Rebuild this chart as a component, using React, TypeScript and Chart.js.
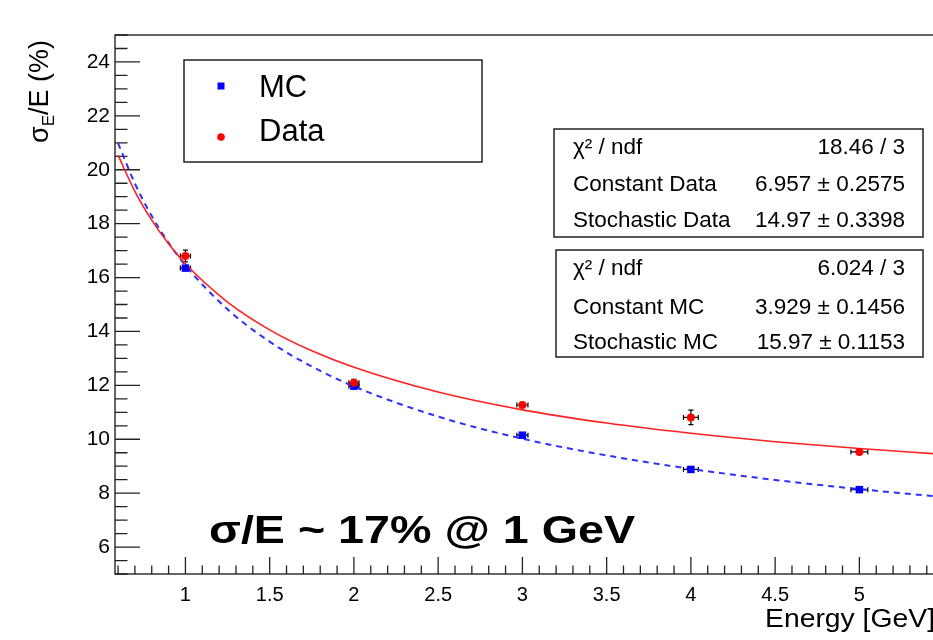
import React, { useEffect, useRef } from 'react';
import { Chart, registerables } from 'chart.js';

Chart.register(...registerables);

// ---------- data ----------
const energies = [1, 2, 3, 4, 5];
const mcValues = [16.35, 11.97, 10.15, 8.88, 8.13];
const mcErrors = [0.06, 0.05, 0.05, 0.05, 0.05];
const dataValues = [16.8, 12.1, 11.27, 10.81, 9.53];
const dataErrors = [0.22, 0.12, 0.07, 0.27, 0.06];
const energyErrors = [0.03, 0.03, 0.033, 0.044, 0.05];

const fitEnergies = [0.6, 0.7, 0.8, 0.9, 1.0, 1.25, 1.5, 1.75, 2.0, 2.5, 3.0, 3.5, 4.0, 4.5, 5.0, 5.44];
const dataFit = [20.54, 19.2, 18.13, 17.25, 16.51, 15.09, 14.06, 13.28, 12.67, 11.75, 11.09, 10.6, 10.22, 9.91, 9.655, 9.465];
const mcFit = [20.99, 19.49, 18.28, 17.29, 16.45, 14.82, 13.62, 12.7, 11.96, 10.84, 10.02, 9.4, 8.9, 8.49, 8.15, 7.89];

const xTickValues = [1, 1.5, 2, 2.5, 3, 3.5, 4, 4.5, 5];
const yTickValues = [6, 8, 10, 12, 14, 16, 18, 20, 22, 24];

const dataStats = [
  ['χ² / ndf', '18.46 / 3'],
  ['Constant Data', '6.957 ± 0.2575'],
  ['Stochastic Data', '14.97 ± 0.3398'],
];
const mcStats = [
  ['χ² / ndf', '6.024 / 3'],
  ['Constant MC', '3.929 ± 0.1456'],
  ['Stochastic MC', '15.97 ± 0.1153'],
];
const legendLabels = ['MC', 'Data'];
const annotationText = 'σ/E ~ 17% @ 1 GeV';
const xTitle = 'Energy [GeV]';

const FONT = '"Liberation Sans", Arial, Helvetica, sans-serif';

function drawFitted(ctx: CanvasRenderingContext2D, text: string, x: number, y: number, width: number, align: 'left' | 'right') {
  const w = ctx.measureText(text).width;
  const sx = width / w;
  ctx.save();
  ctx.translate(x, y);
  ctx.scale(sx, 1);
  ctx.textAlign = align;
  ctx.fillText(text, 0, 0);
  ctx.restore();
}

const decorPlugin = {
  id: 'decor',
  beforeDatasetsDraw(chart: any) {
    const ctx: CanvasRenderingContext2D = chart.ctx;
    const xs = chart.scales.x;
    const ys = chart.scales.y;
    const a = chart.chartArea;
    ctx.save();
    // frame
    ctx.strokeStyle = '#333';
    ctx.lineWidth = 1.5;
    ctx.beginPath();
    ctx.moveTo(a.right + 2, a.top);
    ctx.lineTo(a.left, a.top);
    ctx.lineTo(a.left, a.bottom);
    ctx.lineTo(a.right + 2, a.bottom);
    ctx.stroke();
    // inner ticks
    ctx.lineWidth = 1.3;
    ctx.strokeStyle = '#222';
    ctx.beginPath();
    for (let i = 0; ; i++) {
      const v = 5 + i * 0.5;
      if (v > 25) break;
      const major = Math.abs(v % 2) < 1e-6;
      const py = ys.getPixelForValue(v);
      ctx.moveTo(a.left, py);
      ctx.lineTo(a.left + (major ? 25 : 12.5), py);
    }
    for (let i = 0; ; i++) {
      const v = 0.6 + i * 0.1;
      if (v > xs.max) break;
      const major = Math.abs(Math.round(v * 10) % 5) === 0;
      const px = xs.getPixelForValue(v);
      ctx.moveTo(px, a.bottom);
      ctx.lineTo(px, a.bottom - (major ? 17 : 8.5));
    }
    ctx.stroke();
    // error bars
    ctx.strokeStyle = '#000';
    ctx.lineWidth = 1.2;
    const bars = (vals: number[], errs: number[]) => {
      energies.forEach((e, i) => {
        const px = xs.getPixelForValue(e);
        const py = ys.getPixelForValue(vals[i]);
        const y1 = ys.getPixelForValue(vals[i] + errs[i]);
        const y2 = ys.getPixelForValue(vals[i] - errs[i]);
        const x1 = xs.getPixelForValue(e - energyErrors[i]);
        const x2 = xs.getPixelForValue(e + energyErrors[i]);
        ctx.beginPath();
        ctx.moveTo(px, y1); ctx.lineTo(px, y2);
        ctx.moveTo(px - 2.5, y1); ctx.lineTo(px + 2.5, y1);
        ctx.moveTo(px - 2.5, y2); ctx.lineTo(px + 2.5, y2);
        ctx.moveTo(x1, py); ctx.lineTo(x2, py);
        ctx.moveTo(x1, py - 2.5); ctx.lineTo(x1, py + 2.5);
        ctx.moveTo(x2, py - 2.5); ctx.lineTo(x2, py + 2.5);
        ctx.stroke();
      });
    };
    bars(dataValues, dataErrors);
    bars(mcValues, mcErrors);
    ctx.restore();
  },
  afterDraw(chart: any) {
    const ctx: CanvasRenderingContext2D = chart.ctx;
    ctx.save();
    ctx.fillStyle = '#000';
    ctx.textBaseline = 'alphabetic';

    // y axis title (rotated, with subscript)
    ctx.save();
    ctx.translate(48, 143);
    ctx.rotate(-Math.PI / 2);
    ctx.font = `27px ${FONT}`;
    ctx.textAlign = 'left';
    ctx.fillText('σ', 0, 0);
    let off = ctx.measureText('σ').width;
    ctx.font = `17px ${FONT}`;
    ctx.fillText('E', off, 6);
    off += ctx.measureText('E').width;
    ctx.font = `27px ${FONT}`;
    ctx.fillText('/E (%)', off, 0);
    ctx.restore();

    // x axis title
    ctx.font = `26px ${FONT}`;
    drawFitted(ctx, xTitle, 935, 627, 170, 'right');

    // annotation
    ctx.font = `bold 39px ${FONT}`;
    drawFitted(ctx, annotationText, 209, 543, 426, 'left');

    // legend box
    ctx.strokeStyle = '#222';
    ctx.lineWidth = 1.5;
    ctx.strokeRect(184, 60, 298, 102);
    ctx.fillStyle = '#0000ff';
    ctx.fillRect(217.5, 82.5, 7, 7);
    ctx.fillStyle = '#ff0000';
    ctx.beginPath();
    ctx.arc(221, 137, 3.8, 0, Math.PI * 2);
    ctx.fill();
    ctx.fillStyle = '#000';
    ctx.font = `31px ${FONT}`;
    ctx.textAlign = 'left';
    ctx.fillText(legendLabels[0], 259, 97);
    ctx.fillText(legendLabels[1], 259, 141);

    // stat boxes
    const statBox = (rows: string[][], left: number, top: number, bottom: number, rowYs: number[]) => {
      ctx.fillStyle = '#fff';
      ctx.fillRect(left, top, 923 - left, bottom - top);
      ctx.strokeStyle = '#222';
      ctx.lineWidth = 1.5;
      ctx.strokeRect(left, top, 923 - left, bottom - top);
      ctx.fillStyle = '#000';
      ctx.font = `22.5px ${FONT}`;
      rows.forEach((r, i) => {
        ctx.textAlign = 'left';
        ctx.fillText(r[0], 573, rowYs[i]);
        ctx.textAlign = 'right';
        ctx.fillText(r[1], 905, rowYs[i]);
      });
    };
    statBox(dataStats, 554, 129, 237, [154, 191, 227]);
    statBox(mcStats, 556, 250, 357, [275, 314, 349]);
    ctx.restore();
  },
};

export default function App() {
  const ref = useRef<HTMLCanvasElement | null>(null);
  useEffect(() => {
    if (!ref.current) return;
    const chart = new Chart(ref.current, {
      type: 'scatter',
      data: {
        datasets: [
          {
            label: 'MC',
            data: energies.map((e, i) => ({ x: e, y: mcValues[i] })),
            pointStyle: 'rect',
            pointRadius: 5.3,
            backgroundColor: '#0000ff',
            borderColor: '#0000ff',
            borderWidth: 0,
            order: 1,
          },
          {
            label: 'Data',
            data: energies.map((e, i) => ({ x: e, y: dataValues[i] })),
            pointStyle: 'circle',
            pointRadius: 4,
            backgroundColor: '#ff0000',
            borderColor: '#ff0000',
            borderWidth: 0,
            order: 0,
          },
          {
            label: 'MC fit',
            data: fitEnergies.map((e, i) => ({ x: e, y: mcFit[i] })),
            showLine: true,
            pointRadius: 0,
            borderColor: '#2f2fff',
            borderWidth: 2,
            borderDash: [6, 5],
            cubicInterpolationMode: 'monotone',
            order: 3,
          },
          {
            label: 'Data fit',
            data: fitEnergies.map((e, i) => ({ x: e, y: dataFit[i] })),
            showLine: true,
            pointRadius: 0,
            borderColor: '#ff2020',
            borderWidth: 1.6,
            cubicInterpolationMode: 'monotone',
            order: 2,
          },
        ],
      } as any,
      options: {
        animation: false,
        responsive: false,
        maintainAspectRatio: false,
        layout: { autoPadding: false, padding: { top: 35, left: 0, right: 0, bottom: 0 } },
        plugins: { legend: { display: false }, tooltip: { enabled: false } },
        scales: {
          x: {
            type: 'linear',
            min: 0.582,
            max: 5.437,
            grid: { display: false, drawTicks: false },
            border: { display: false },
            afterFit: (s: any) => { s.height = 66; s.paddingLeft = 0; s.paddingRight = 0; },
            afterBuildTicks: (s: any) => { s.ticks = xTickValues.map((v) => ({ value: v })); },
            ticks: {
              padding: 9,
              color: '#000',
              font: { family: FONT, size: 20 },
              callback: (v: any) => String(v),
              maxRotation: 0,
              autoSkip: false,
            },
          },
          y: {
            type: 'linear',
            min: 5,
            max: 25,
            grid: { display: false, drawTicks: false },
            border: { display: false },
            afterFit: (s: any) => { s.width = 115; s.paddingTop = 0; s.paddingBottom = 0; },
            afterBuildTicks: (s: any) => { s.ticks = yTickValues.map((v) => ({ value: v })); },
            ticks: {
              padding: 5,
              color: '#000',
              font: { family: FONT, size: 21 },
              callback: (v: any) => String(v),
              autoSkip: false,
            },
          },
        },
      } as any,
      plugins: [decorPlugin],
    });
    return () => chart.destroy();
  }, []);
  return (
    <div style={{ position: 'fixed', left: 0, top: 0, width: 933, height: 640, background: '#fff' }}>
      <canvas ref={ref} width={933} height={640} style={{ width: 933, height: 640, display: 'block' }} />
    </div>
  );
}
